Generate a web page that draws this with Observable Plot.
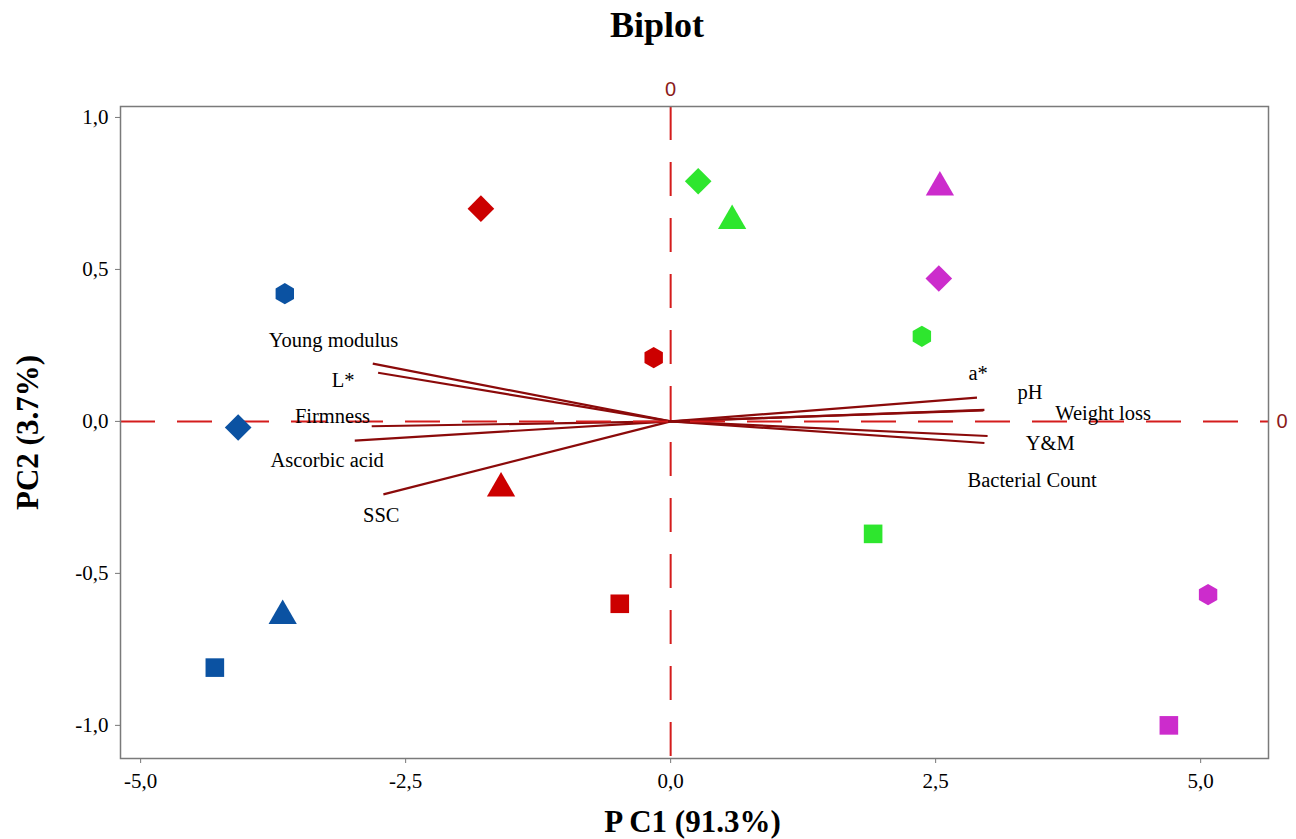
<!DOCTYPE html>
<html><head><meta charset="utf-8">
<script src="https://cdn.jsdelivr.net/npm/d3@7"></script>
<script src="https://cdn.jsdelivr.net/npm/@observablehq/plot@0.6"></script>
<style>
body{margin:0;background:#fff;}
#title{height:60px;line-height:50px;font-family:"Liberation Serif",serif;font-weight:bold;font-size:36px;text-align:center;padding-left:18px;box-sizing:border-box;color:#000;}
</style></head><body>
<div id="title">Biplot</div>
<div id="chart"></div>
<script>
// Scores (observations)
const pointGroup = ["G1","G1","G1","G1","G2","G2","G2","G2","G3","G3","G3","G3","G4","G4","G4","G4"];
const pointShape = ["S1","S2","S3","S4","S2","S1","S3","S4","S2","S3","S1","S4","S3","S2","S1","S4"];
const pc1 = [-3.64,-4.08,-3.66,-4.30, -1.79,-0.16,-1.60,-0.48, 0.26,0.58,2.37,1.91, 2.54,2.53,5.07,4.70];
const pc2 = [ 0.42,-0.02,-0.64,-0.81,  0.70, 0.21,-0.22,-0.60, 0.79,0.66,0.28,-0.37, 0.77,0.47,-0.57,-1.00];

// Loadings (variables)
const varNames = ["Young modulus","L*","Firmness","Ascorbic acid","SSC","a*","pH","Weight loss","Y&M","Bacterial Count"];
const loadX = [-2.81,-2.76,-2.82,-2.98,-2.71, 2.89,2.96,2.95, 2.99,2.96];
const loadY = [ 0.19, 0.16,-0.016,-0.063,-0.24, 0.078,0.038,0.036,-0.048,-0.071];
const labelX = [-3.18,-3.09,-3.19,-3.24,-2.73, 2.90,3.39,4.08,3.58,3.41];
const labelY = [ 0.266,0.135,0.016,-0.128,-0.31, 0.158,0.095,0.026,-0.072,-0.194];

const groups = ["G1","G2","G3","G4"];
const shapes = ["S1","S2","S3","S4"];
const xTicks = [-5,-2.5,0,2.5,5];
const yTicks = [-1,-0.5,0,0.5,1];

const groupColors = ["#0b52a2","#cc0000","#2ee62e","#cc2ccc"];
const shapeSymbols = ["hexagon","diamond2","triangle","square"];
const shapeR = [9.2,12,10.5,10.5];

const points = pc1.map((x,i)=>({x, y:pc2[i], group:pointGroup[i], shape:pointShape[i]}));
const vectors = varNames.map((name,i)=>({name, x:loadX[i], y:loadY[i], lx:labelX[i], ly:labelY[i]}));
const fmt = d => d.toFixed(1).replace(".", ",");

const chart = Plot.plot({
  width:1296, height:779,
  marginTop:46, marginBottom:81, marginLeft:120, marginRight:28,
  x:{domain:[-5.19,5.64]},
  y:{domain:[-1.109,1.036]},
  color:{domain:groups, range:groupColors},
  symbol:{domain:shapes, range:shapeSymbols},
  style:{fontFamily:"Liberation Serif", background:"white", color:"black"},
  marks:[
    Plot.axisX(xTicks, {tickFormat:fmt, tickSize:5, tickPadding:10, fontSize:21, stroke:"#777", fill:"black", label:null}),
    Plot.axisY(yTicks, {tickFormat:fmt, tickSize:5, tickPadding:7, fontSize:21, stroke:"#777", fill:"black", label:null}),
    Plot.link(vectors, {x1:()=>0, y1:()=>0, x2:"x", y2:"y", stroke:"#8b0a0a", strokeWidth:2.2}),
    Plot.ruleX([0], {stroke:"#d41c1c", strokeWidth:2, strokeDasharray:"34,22"}),
    Plot.ruleY([0], {stroke:"#d41c1c", strokeWidth:2, strokeDasharray:"35,22"}),
    Plot.frame({stroke:"#7a7a7a", strokeWidth:1.5}),
    ...shapes.map((s,i)=>Plot.dot(points, {filter:d=>d.shape===s, x:"x", y:"y", fill:"group", symbol:"shape", r:shapeR[i], stroke:"none"})),
    Plot.text(vectors, {x:"lx", y:"ly", text:"name", fontSize:20.5, fill:"black"}),
    Plot.text(["0"], {x:()=>0, text:d=>d, frameAnchor:"top", lineAnchor:"middle", dy:-17, fill:"#8b1a1a", fontFamily:"Liberation Sans", fontSize:20}),
    Plot.text(["0"], {y:()=>0, text:d=>d, frameAnchor:"right", textAnchor:"start", lineAnchor:"middle", dx:8, fill:"#8b1a1a", fontFamily:"Liberation Sans", fontSize:20}),
    Plot.text(["P C1 (91.3%)"], {text:d=>d, frameAnchor:"bottom", lineAnchor:"middle", dy:64, dx:-2, fontSize:31, fontWeight:"bold", fill:"black"}),
    Plot.text(["PC2 (3.7%)"], {text:d=>d, frameAnchor:"left", textAnchor:"middle", lineAnchor:"middle", rotate:-90, dx:-92, fontSize:31, fontWeight:"bold", fill:"black"})
  ]
});
document.getElementById("chart").appendChild(chart);
</script>
</body></html>
